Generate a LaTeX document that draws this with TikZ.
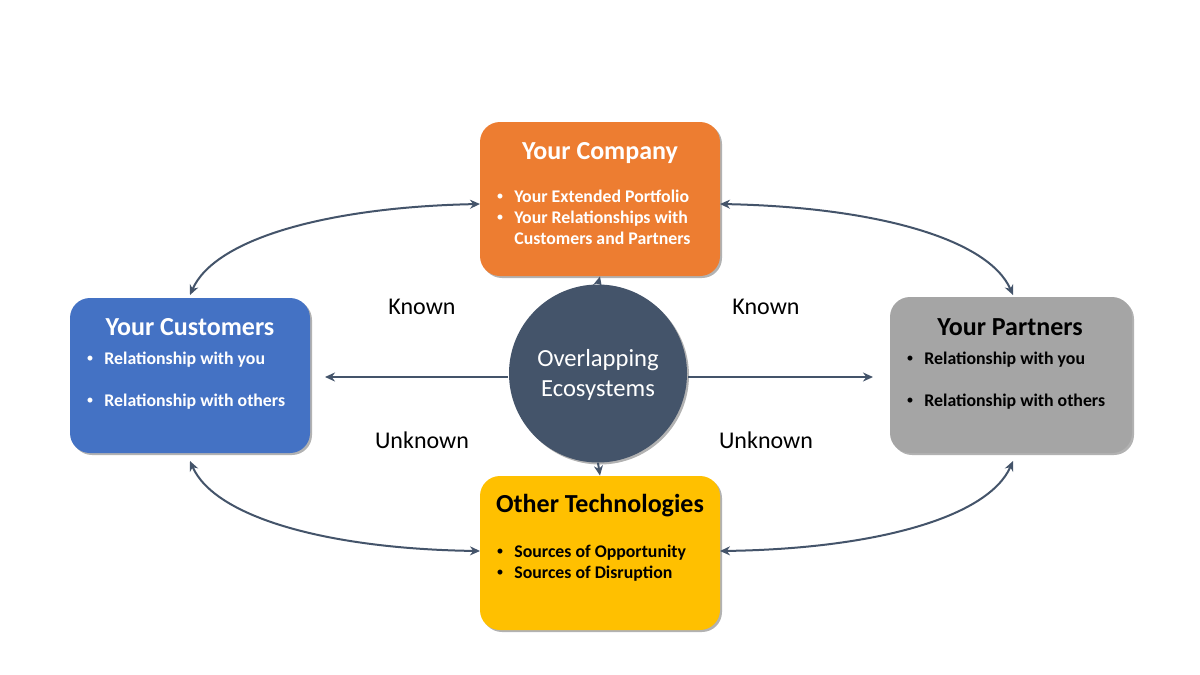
\documentclass[tikz,border=0pt]{standalone}
\usepackage{fontspec}
\setmainfont{Carlito}
\usetikzlibrary{arrows.meta,shadows}
\definecolor{corange}{HTML}{ED7D31}
\definecolor{cblue}{HTML}{4472C4}
\definecolor{cgray}{HTML}{A5A5A5}
\definecolor{cyellow}{HTML}{FFC000}
\definecolor{cnavy}{HTML}{44546A}
\definecolor{cline}{HTML}{44546A}
\newcommand{\smallbul}{\raisebox{0.6pt}{\fontsize{7}{8}\selectfont\mdseries •}}
\begin{document}
\begin{tikzpicture}[x=0.5pt,y=-0.5pt,
  box/.style={rounded corners=10pt, draw=none, inner sep=0pt,
    drop shadow={shadow xshift=1pt,shadow yshift=-1pt,opacity=0.3,fill=black}},
  ttl/.style={anchor=base, font=\fontsize{13}{15}\selectfont\bfseries, inner sep=0pt},
  bl/.style={anchor=base west, font=\fontsize{8.9}{11}\selectfont\bfseries, inner sep=0pt},
  bd/.style={anchor=base, inner sep=0pt},
  lbl/.style={anchor=base, font=\fontsize{12}{14}\selectfont, inner sep=0pt},
  conn/.style={draw=cline, line width=1pt, -{Stealth[length=5pt,width=4.5pt]}},
  both/.style={draw=cline, line width=1pt, {Stealth[length=5pt,width=4.5pt]}-{Stealth[length=5pt,width=4.5pt]}}]
\useasboundingbox (0,0) rectangle (1200,675);
\fill[white] (0,0) rectangle (1200,675);

% boxes
\node[box, fill=corange, minimum width=120pt, minimum height=77pt] (comp) at (600,199) {};
\node[box, fill=cblue, minimum width=120pt, minimum height=77.5pt] (cust) at (190,375.5) {};
\node[box, fill=cgray, minimum width=121pt, minimum height=78pt] (part) at (1011,375) {};
\node[box, fill=cyellow, minimum width=120pt, minimum height=77pt] (tech) at (600,553) {};
\node[circle, fill=cnavy, minimum size=89pt, inner sep=0pt,
  drop shadow={shadow xshift=1pt,shadow yshift=-1pt,opacity=0.3,fill=black}] (eco) at (598,373.5) {};

% texts
\node[ttl, text=white] (t1) at (600,159) {Your Company};
\node[bd, text=white] (c1b) at (500,202) {\smallbul};
\node[bl, text=white] (c1) at (514,202) {Your Extended Portfolio};
\node[bd, text=white] (c2b) at (500,223) {\smallbul};
\node[bl, text=white] (c2) at (514,223) {Your Relationships with};
\node[bl, text=white] (c3) at (514,244) {Customers and Partners};

\node[ttl, text=white] (t2) at (190,335) {Your Customers};
\node[bd, text=white] (u1b) at (90,364) {\smallbul};
\node[bl, text=white] (u1) at (104,364) {Relationship with you};
\node[bd, text=white] (u2b) at (90,406) {\smallbul};
\node[bl, text=white] (u2) at (104,406) {Relationship with others};

\node[ttl, text=black] (t3) at (1010,335) {Your Partners};
\node[bd, text=black] (p1b) at (910,364) {\smallbul};
\node[bl, text=black] (p1) at (924,364) {Relationship with you};
\node[bd, text=black] (p2b) at (910,406) {\smallbul};
\node[bl, text=black] (p2) at (924,406) {Relationship with others};

\node[ttl, text=black] (t4) at (600,512) {Other Technologies};
\node[bd, text=black] (o1b) at (500,557) {\smallbul};
\node[bl, text=black] (o1) at (514,557) {Sources of Opportunity};
\node[bd, text=black] (o2b) at (500,578) {\smallbul};
\node[bl, text=black] (o2) at (514,578) {Sources of Disruption};

\node[lbl, text=white, font=\fontsize{12.3}{14}\selectfont] (e1) at (598,366) {Overlapping};
\node[lbl, text=white, font=\fontsize{12.3}{14}\selectfont] (e2) at (598,396) {Ecosystems};

\node[lbl] (k1) at (422,314) {Known};
\node[lbl] (k2) at (766,314) {Known};
\node[lbl] (u1l) at (422,448) {Unknown};
\node[lbl] (u2l) at (766,448) {Unknown};

% connector coordinates
\coordinate (cL) at (508,377);
\coordinate (cR) at (688,377);
\coordinate (aL) at (325,377);
\coordinate (aR) at (873,377);
\coordinate (compL) at (480,204);
\coordinate (compR) at (720,204);
\coordinate (techL) at (480,551);
\coordinate (techR) at (720,551);
\coordinate (custT) at (190,295);
\coordinate (custB) at (190,461);
\coordinate (partT) at (1013,295);
\coordinate (partB) at (1013,461);

\draw[conn] (cL) -- (aL);
\draw[conn] (cR) -- (aR);
\draw[conn] (eco.north) -- (comp.south);
\draw[conn] (eco.south) -- (tech.north);

\draw[both] (custT) .. controls (215,238) and (330,207) .. (compL);
\draw[both] (partT) .. controls (988,238) and (873,207) .. (compR);
\draw[both] (custB) .. controls (215,518) and (330,549) .. (techL);
\draw[both] (partB) .. controls (988,518) and (873,549) .. (techR);
\end{tikzpicture}
\end{document}
